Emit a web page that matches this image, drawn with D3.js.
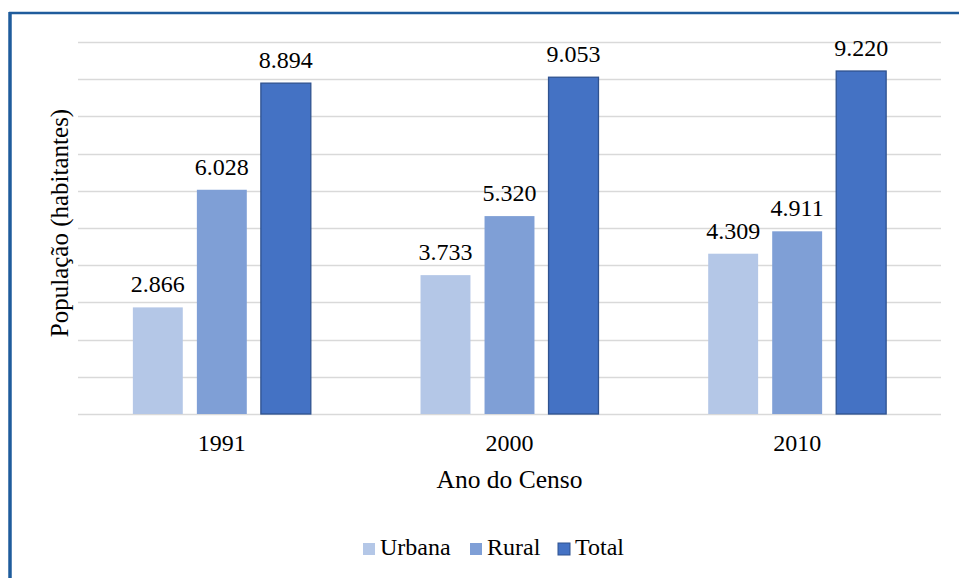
<!DOCTYPE html>
<html>
<head>
<meta charset="utf-8">
<script src="https://cdn.jsdelivr.net/npm/d3@7"></script>
<style>
  body { margin: 0; background: #fff; }
</style>
</head>
<body>
<div id="chart"></div>
<script>
// chart data
const years = ["1991", "2000", "2010"];
const series = ["Urbana", "Rural", "Total"];
const urbana = [2866, 3733, 4309];
const rural = [6028, 5320, 4911];
const total = [8894, 9053, 9220];
const yTicks = [0, 1000, 2000, 3000, 4000, 5000, 6000, 7000, 8000, 9000, 10000];

const colors = { Urbana: "#b4c7e7", Rural: "#7f9fd6", Total: "#4472c4" };
const strokes = { Urbana: "none", Rural: "none", Total: "#2f528f" };
const FONT = "'Liberation Serif', 'Times New Roman', serif";

const W = 959, H = 578;
const plot = { left: 78, right: 941, top: 42, bottom: 414 };

const svg = d3.select("#chart").append("svg")
  .attr("width", W)
  .attr("height", H)
  .attr("font-family", FONT);

// outer frame (only top and left edges show)
svg.append("line").attr("x1", 9).attr("x2", W).attr("y1", 13).attr("y2", 13)
  .attr("stroke", "#1f5c9c").attr("stroke-width", 2.5);
svg.append("line").attr("x1", 10).attr("x2", 10).attr("y1", 12).attr("y2", H)
  .attr("stroke", "#1f5c9c").attr("stroke-width", 3.5);

const y = d3.scaleLinear().domain([0, 10000]).range([plot.bottom, plot.top]);

const x0 = d3.scaleBand().domain(years).range([plot.left, plot.right]).padding(0);
const x1 = d3.scaleBand().domain(series).range([0, x0.bandwidth()])
  .paddingInner(0.22).paddingOuter(0.857);

// gridlines
svg.append("g")
  .selectAll("line")
  .data(yTicks)
  .enter()
  .append("line")
  .attr("x1", plot.left)
  .attr("x2", plot.right)
  .attr("y1", d => Math.round(y(d)) + 0.5)
  .attr("y2", d => Math.round(y(d)) + 0.5)
  .attr("stroke", "#d9d9d9")
  .attr("stroke-width", 1.5);

const rows = years.map((yr, i) => ({
  year: yr,
  values: [
    { key: "Urbana", value: urbana[i] },
    { key: "Rural", value: rural[i] },
    { key: "Total", value: total[i] }
  ]
}));

const groups = svg.selectAll("g.year")
  .data(rows)
  .enter()
  .append("g")
  .attr("class", "year")
  .attr("transform", d => "translate(" + x0(d.year) + ",0)");

groups.selectAll("rect")
  .data(d => d.values)
  .enter()
  .append("rect")
  .attr("x", d => x1(d.key))
  .attr("y", d => y(d.value))
  .attr("width", x1.bandwidth())
  .attr("height", d => plot.bottom - y(d.value))
  .attr("fill", d => colors[d.key])
  .attr("stroke", d => strokes[d.key])
  .attr("stroke-width", 1.3);

// pt-BR thousands separator
const fmt = v => d3.format(",")(v).replace(/,/g, ".");

groups.selectAll("text.lbl")
  .data(d => d.values)
  .enter()
  .append("text")
  .attr("class", "lbl")
  .attr("x", d => x1(d.key) + x1.bandwidth() / 2)
  .attr("y", d => y(d.value) - 15)
  .attr("text-anchor", "middle")
  .style("font-family", FONT)
  .style("font-size", "24px")
  .attr("fill", "#000")
  .text(d => fmt(d.value));

// x axis labels
const xAxis = svg.append("g")
  .attr("transform", "translate(0," + plot.bottom + ")")
  .call(d3.axisBottom(x0).tickSize(0).tickPadding(20));
xAxis.select(".domain").remove();
xAxis.selectAll("text")
  .style("font-family", FONT)
  .style("font-size", "24px")
  .attr("fill", "#000");

// axis titles
svg.append("text")
  .attr("x", (plot.left + plot.right) / 2)
  .attr("y", 488)
  .attr("text-anchor", "middle")
  .style("font-family", FONT)
  .style("font-size", "25.5px")
  .attr("fill", "#000")
  .text("Ano do Censo");

svg.append("text")
  .attr("transform", "translate(68,223) rotate(-90)")
  .attr("text-anchor", "middle")
  .style("font-family", FONT)
  .style("font-size", "25px")
  .attr("fill", "#000")
  .text("População (habitantes)");

// legend
const legendX = [363, 470, 558];
const legend = svg.selectAll("g.legend")
  .data(series)
  .enter()
  .append("g")
  .attr("class", "legend")
  .attr("transform", (d, i) => "translate(" + legendX[i] + ",543)");

legend.append("rect")
  .attr("width", 12)
  .attr("height", 12)
  .attr("fill", d => colors[d])
  .attr("stroke", d => strokes[d])
  .attr("stroke-width", 1);

legend.append("text")
  .attr("x", 17)
  .attr("y", 12)
  .style("font-family", FONT)
  .style("font-size", "24px")
  .attr("fill", "#000")
  .text(d => d);
</script>
</body>
</html>
